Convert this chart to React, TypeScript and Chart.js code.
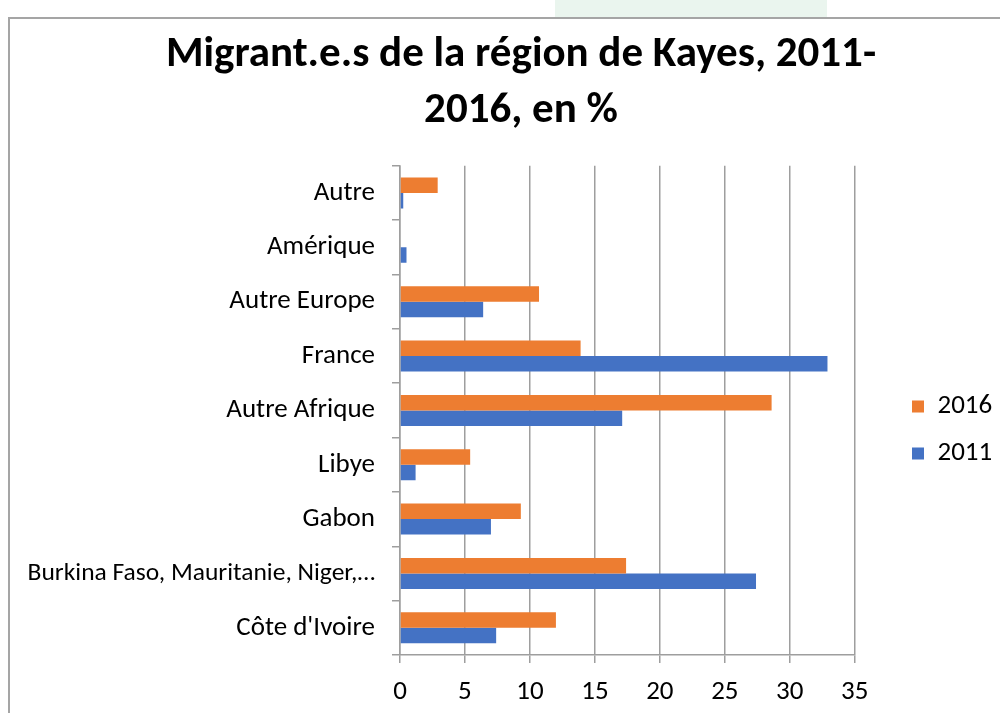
import React, { useEffect, useRef } from "react";
import { Chart, registerables } from "chart.js";

Chart.register(...registerables);

const titleLines = ["Migrant.e.s de la région de Kayes, 2011-", "2016, en %"];
const categories = [
  "Autre",
  "Amérique",
  "Autre Europe",
  "France",
  "Autre Afrique",
  "Libye",
  "Gabon",
  "Burkina Faso, Mauritanie, Niger,…",
  "Côte d'Ivoire",
];
const series2016 = [2.9, 0, 10.7, 13.9, 28.6, 5.4, 9.3, 17.4, 12.0];
const series2011 = [0.25, 0.5, 6.4, 32.9, 17.1, 1.2, 7.0, 27.4, 7.4];
const xTicks = [0, 5, 10, 15, 20, 25, 30, 35];

const FONT = "Carlito, Lato, 'Liberation Sans', sans-serif";

const layoutTweak = {
  id: "layoutTweak",
  afterLayout(chart: any) {
    const lg = chart.legend;
    if (lg) {
      const targetLeft = 902 - lg.options.labels.padding;
      const dx = targetLeft - lg.left;
      lg.left += dx;
      lg.right += dx;
      const dy = 64;
      lg.top += dy;
      lg.bottom += dy;
    }
    const tb = chart.titleBlock;
    if (tb) {
      tb.left = 0;
      tb.right = chart.width;
    }
  },
};

export default function App() {
  const ref = useRef<HTMLCanvasElement | null>(null);
  useEffect(() => {
    if (!ref.current) return;
    const chart = new Chart(ref.current, {
      type: "bar",
      plugins: [layoutTweak],
      data: {
        labels: categories,
        datasets: [
          {
            label: "2016",
            data: series2016,
            backgroundColor: "#ED7D31",
            borderWidth: 0,
            categoryPercentage: 0.57,
            barPercentage: 1.0,
          },
          {
            label: "2011",
            data: series2011,
            backgroundColor: "#4472C4",
            borderWidth: 0,
            categoryPercentage: 0.57,
            barPercentage: 1.0,
          },
        ],
      },
      options: {
        indexAxis: "y",
        animation: false,
        responsive: false,
        maintainAspectRatio: false,
        layout: { padding: { left: 0, right: 67, top: 0, bottom: 0 } },
        plugins: {
          tooltip: { enabled: false },
          title: {
            display: true,
            text: titleLines,
            color: "#000",
            font: { family: FONT, size: 43, weight: "bold", lineHeight: 1.3 },
            padding: { top: 8, bottom: 27 },
          },
          legend: {
            position: "right",
            align: "center",
            labels: {
              color: "#000",
              boxWidth: 12,
              boxHeight: 12,
              padding: 20,
              font: { family: FONT, size: 27 },
            },
          },
        },
        scales: {
          x: {
            type: "linear",
            min: 0,
            max: 35,
            afterBuildTicks: (scale: any) => {
              scale.ticks = xTicks.map((v) => ({ value: v }));
            },
            afterFit: (scale: any) => {
              scale.height = 58;
            },
            ticks: {
              color: "#000",
              font: { family: FONT, size: 27 },
              padding: 13,
            },
            grid: {
              color: "#9E9E9E",
              lineWidth: 1.5,
              tickLength: 8,
              drawTicks: true,
            },
            border: { display: true, color: "#9E9E9E", width: 1.5 },
          },
          y: {
            type: "category",
            afterFit: (scale: any) => {
              scale.width = 390;
            },
            ticks: {
              color: "#000",
              font: (ctx: any) => ({
                family: FONT,
                size: ctx.index === 7 ? 25.5 : 27,
              }),
              padding: 17,
              autoSkip: false,
            },
            grid: {
              color: "#9E9E9E",
              lineWidth: 1.5,
              drawOnChartArea: false,
              drawTicks: true,
              tickLength: 8,
              offset: true,
            },
            border: { display: true, color: "#9E9E9E", width: 1.5 },
          },
        },
      },
    });
    return () => chart.destroy();
  }, []);

  return (
    <div
      style={{
        position: "fixed",
        left: 0,
        top: 0,
        width: 1000,
        height: 713,
        overflow: "hidden",
        background: "#fff",
      }}
    >
      <div
        style={{
          position: "absolute",
          left: 555,
          top: 0,
          width: 272,
          height: 17,
          background: "#EAF5EE",
        }}
      />
      <div
        style={{
          position: "absolute",
          left: 8,
          top: 17,
          width: 1040,
          height: 720,
          borderLeft: "2px solid #A5A5A5",
          borderTop: "2px solid #A5A5A5",
          boxSizing: "border-box",
        }}
      />
      <canvas
        ref={ref}
        width={1022}
        height={694}
        style={{ position: "absolute", left: 10, top: 19, width: 1022, height: 694 }}
      />
    </div>
  );
}
